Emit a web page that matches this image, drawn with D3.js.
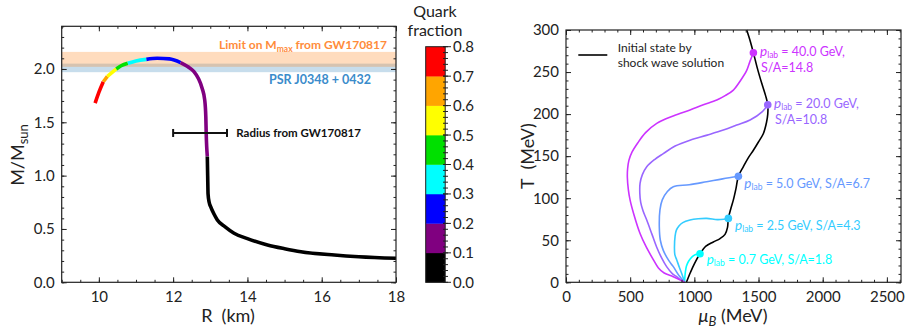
<!DOCTYPE html>
<html>
<head>
<meta charset="utf-8">
<script src="https://cdn.jsdelivr.net/npm/d3@7"></script>
<style>
  body { margin: 0; background: #fff; }
  svg { font-family: Lato, "DejaVu Sans", sans-serif; }
</style>
</head>
<body>
<svg id="chart" width="905" height="329"></svg>
<script>
// ---- left panel: mass-radius curve, quark fraction per point ----
var mrR = [9.90, 10.00, 10.12, 10.23, 10.47, 10.60, 10.78, 11.00, 11.28, 11.57, 11.90, 12.20, 12.40, 12.56, 12.68, 12.78, 12.85, 12.88, 12.89, 12.92, 12.93, 12.94, 12.97, 13.01, 13.10, 13.19, 13.40, 13.64, 14.00, 14.54, 15.00, 15.44, 16.34, 17.00, 18.00];
var mrM = [1.68, 1.78, 1.88, 1.93, 2.00, 2.03, 2.053, 2.075, 2.09, 2.10, 2.095, 2.06, 2.02, 1.975, 1.91, 1.82, 1.71, 1.55, 1.40, 1.18, 1.00, 0.83, 0.75, 0.71, 0.64, 0.585, 0.52, 0.46, 0.41, 0.35, 0.315, 0.287, 0.256, 0.24, 0.225];
var mrQ = [0.79, 0.75, 0.70, 0.60, 0.50, 0.45, 0.40, 0.35, 0.30, 0.26, 0.23, 0.20, 0.18, 0.17, 0.16, 0.15, 0.14, 0.13, 0.12, 0.10, 0.09, 0.07, 0.06, 0.05, 0.04, 0.03, 0.03, 0.02, 0.02, 0.01, 0.01, 0.01, 0.0, 0.0, 0.0];

var quarkColors = ["#000000", "#800080", "#0000ff", "#00ffff", "#00e000", "#ffff00", "#ffa500", "#ff0000"];
var quarkTicks = [0.0, 0.1, 0.2, 0.3, 0.4, 0.5, 0.6, 0.7, 0.8];

var psrBand = [1.97, 2.05];
var gwBand = [2.02, 2.16];
var gwRadius = [12.0, 13.45];
var gwRadiusMass = 1.4;

var rTicks = [10, 12, 14, 16, 18];
var mTicks = [0.0, 0.5, 1.0, 1.5, 2.0];

// ---- right panel: initial state + trajectories ----
var initMu = [938, 970, 1000, 1044, 1090, 1148, 1200, 1239, 1258, 1265, 1285, 1304, 1325, 1343, 1382, 1420, 1460, 1500, 1538, 1562, 1572, 1572, 1555, 1525, 1490, 1460, 1435, 1408];
var initT = [0, 12, 22, 34, 43, 48, 52, 57, 65, 76, 88, 98, 112, 126, 137.5, 148, 157, 167, 177, 190, 200, 211, 222, 236.6, 255, 273, 287, 300];

var plab = ["0.7", "2.5", "5.0", "20.0", "40.0"];
var entropy = ["1.8", "4.3", "6.7", "10.8", "14.8"];
var trajColors = ["#00ffff", "#33ccff", "#6699ff", "#9966ff", "#cc33ff"];

var trajMu = [
  [1044, 1010, 980, 955, 938, 930, 926, 924],
  [1265, 1230, 1180, 1096, 1030, 966, 910, 880, 860, 850, 845, 848, 863, 885, 905, 924],
  [1343, 1220, 1096, 960, 836, 790, 750, 732, 727, 735, 758, 800, 836, 880, 924],
  [1572, 1530, 1434, 1330, 1226, 1100, 966, 850, 758, 690, 629, 595, 577, 575, 582, 600, 629, 670, 706, 745, 784, 830, 862, 900, 924],
  [1460, 1434, 1408, 1360, 1304, 1240, 1175, 1070, 966, 840, 707, 620, 560, 515, 490, 480, 478, 486, 499, 530, 577, 625, 680, 720, 765, 836, 900, 924]
];
var trajT = [
  [34, 33, 30, 25, 19, 12, 6, 0],
  [76, 75, 74.5, 76, 75.5, 74, 71, 67, 62, 55, 42, 33, 26.5, 17, 9, 0],
  [126, 123, 119.6, 116, 113.7, 108, 98, 86, 66, 50, 38, 26, 18.6, 8, 0],
  [211, 203, 193, 187, 181, 175, 169, 162, 153, 146, 137.5, 128, 117.7, 106, 95, 85, 74, 57, 42, 29, 18.6, 10, 6.7, 2, 0],
  [273, 263, 252, 240, 228.6, 222, 216.8, 211, 204.9, 198, 189, 178, 166, 155, 145, 135, 125, 110, 98, 80, 58, 42, 27, 17, 11, 6.7, 2, 0]
];

var muTicks = [0, 500, 1000, 1500, 2000, 2500];
var tTicks = [0, 50, 100, 150, 200, 250, 300];

var svg = d3.select("#chart");

// inward ticks on all four sides
function frameAxes(g, x, y, xMajor, xMinor, yMajor, yMinor, xFmt, yFmt) {
  var x0 = x.range()[0], x1 = x.range()[1];
  var y0 = y.range()[0], y1 = y.range()[1];
  var sides = [
    [d3.axisBottom(x), y0, xMajor, xMinor, xFmt, "x"],
    [d3.axisTop(x), y1, xMajor, xMinor, null, "x"],
    [d3.axisLeft(y), x0, yMajor, yMinor, yFmt, "y"],
    [d3.axisRight(y), x1, yMajor, yMinor, null, "y"]
  ];
  sides.forEach(function(s) {
    var tr = s[5] == "x" ? "translate(0," + s[1] + ")" : "translate(" + s[1] + ",0)";
    g.append("g").attr("transform", tr)
      .call(s[0].tickValues(s[3]).tickSize(-2.5).tickFormat(""))
      .call(function(a) { a.select(".domain").remove(); });
    var ax = g.append("g").attr("transform", tr)
      .call(s[0].tickValues(s[2]).tickSize(-5).tickPadding(s[5] == "x" ? 9 : 7)
        .tickFormat(s[4] ? s[4] : ""));
    ax.select(".domain").remove();
    ax.selectAll("text").attr("font-size", 15).attr("fill", "#222")
      .attr("font-family", "Lato, sans-serif");
  });
  g.selectAll(".tick line").attr("stroke", "#222").attr("stroke-width", 1);
  g.append("rect").attr("x", x0).attr("y", y1).attr("width", x1 - x0).attr("height", y0 - y1)
    .attr("fill", "none").attr("stroke", "#222").attr("stroke-width", 1.2);
}

// ---------------- left panel ----------------
var xL = d3.scaleLinear().domain([9, 18]).range([61.7, 396]);
var yL = d3.scaleLinear().domain([0, 2.4]).range([282.3, 26.3]);
var gL = svg.append("g");

gL.append("rect").attr("x", xL(9)).attr("width", xL(18) - xL(9))
  .attr("y", yL(psrBand[1])).attr("height", yL(psrBand[0]) - yL(psrBand[1]))
  .attr("fill", "#1f77b4").attr("opacity", 0.25);
gL.append("rect").attr("x", xL(9)).attr("width", xL(18) - xL(9))
  .attr("y", yL(gwBand[1])).attr("height", yL(gwBand[0]) - yL(gwBand[1]))
  .attr("fill", "#ff7f0e").attr("opacity", 0.27);

gL.append("text").attr("x", xL(18) - 9).attr("y", 49)
  .attr("text-anchor", "end").attr("font-size", 12).attr("font-weight", "bold")
  .attr("fill", "#ff8c3a")
  .call(function(t) {
    t.append("tspan").text("Limit on M");
    t.append("tspan").attr("font-size", 8.5).attr("dy", 3).text("max");
    t.append("tspan").attr("dy", -3).text(" from GW170817");
  });
gL.append("text").attr("x", 371).attr("y", 83.5)
  .attr("text-anchor", "end").attr("font-size", 12.5).attr("font-weight", "bold")
  .attr("fill", "#3a8ccb").text("PSR J0348 + 0432");

// colored M-R curve, one path per run of same quark bin
var mrPts = mrR.map(function(r, i) { return { r: r, m: mrM[i], q: mrQ[i] }; });
var runs = [];
for (var i = 0; i < mrPts.length - 1; i++) {
  var bin = Math.min(7, Math.floor((mrPts[i].q + mrPts[i + 1].q) / 2 / 0.1));
  if (runs.length && runs[runs.length - 1].bin == bin) {
    runs[runs.length - 1].pts.push(mrPts[i + 1]);
  } else {
    runs.push({ bin: bin, pts: [mrPts[i], mrPts[i + 1]] });
  }
}
var mrLine = d3.line().x(function(d) { return xL(d.r); }).y(function(d) { return yL(d.m); })
  .curve(d3.curveMonotoneX);
gL.selectAll("path.mr").data(runs).enter().append("path").attr("class", "mr")
  .attr("d", function(d) { return mrLine(d.pts); })
  .attr("fill", "none").attr("stroke-width", 3.6)
  .attr("stroke", function(d) { return quarkColors[d.bin]; });

// GW170817 radius error bar
var ey = yL(gwRadiusMass);
gL.append("line").attr("x1", xL(gwRadius[0])).attr("x2", xL(gwRadius[1]))
  .attr("y1", ey).attr("y2", ey).attr("stroke", "#111").attr("stroke-width", 2);
gwRadius.forEach(function(r) {
  gL.append("line").attr("x1", xL(r)).attr("x2", xL(r)).attr("y1", ey - 4).attr("y2", ey + 4)
    .attr("stroke", "#111").attr("stroke-width", 2);
});
gL.append("text").attr("x", 236.3).attr("y", ey + 4).attr("font-size", 11.5)
  .attr("font-weight", "bold").attr("fill", "#111").text("Radius from GW170817");

frameAxes(gL, xL, yL, rTicks, d3.range(9, 18.01, 0.5), mTicks, d3.range(0, 2.41, 0.1),
  d3.format("d"), d3.format(".1f"));

gL.append("text").attr("transform", "translate(24,155) rotate(-90)")
  .attr("text-anchor", "middle").attr("font-size", 18).attr("fill", "#222")
  .call(function(t) {
    t.append("tspan").text("M/M");
    t.append("tspan").attr("font-size", 13).attr("dy", 4).text("sun");
  });
gL.append("text").attr("x", 228).attr("y", 322).attr("text-anchor", "middle")
  .attr("font-size", 18).attr("fill", "#222").attr("xml:space", "preserve").text("R  (km)");

// ---------------- colorbar ----------------
var yC = d3.scaleLinear().domain([0, 0.8]).range([282.3, 46.7]);
var gC = svg.append("g");
gC.selectAll("rect.bin").data(quarkColors).enter().append("rect").attr("class", "bin")
  .attr("x", 425.7).attr("width", 19.5)
  .attr("y", function(d, i) { return yC((i + 1) * 0.1); })
  .attr("height", function(d, i) { return yC(i * 0.1) - yC((i + 1) * 0.1) + 0.3; })
  .attr("fill", function(d) { return d; });
gC.append("rect").attr("x", 425.7).attr("y", yC(0.8)).attr("width", 19.5)
  .attr("height", yC(0) - yC(0.8)).attr("fill", "none").attr("stroke", "#222").attr("stroke-width", 1);
gC.selectAll("line.minor").data(d3.range(0, 0.801, 0.02)).enter().append("line")
  .attr("x1", 443).attr("x2", 448).attr("y1", yC).attr("y2", yC)
  .attr("stroke", "#222").attr("stroke-width", 1);
gC.selectAll("line.major").data(quarkTicks).enter().append("line")
  .attr("x1", 443).attr("x2", 451).attr("y1", yC).attr("y2", yC)
  .attr("stroke", "#222").attr("stroke-width", 1);
gC.selectAll("text.lab").data(quarkTicks).enter().append("text")
  .attr("x", 453).attr("y", function(d) { return yC(d) + 5.5; })
  .attr("font-size", 15).attr("fill", "#222").text(d3.format(".1f"));
gC.append("text").attr("x", 435).attr("y", 17).attr("text-anchor", "middle")
  .attr("font-size", 16).attr("fill", "#222").text("Quark");
gC.append("text").attr("x", 435).attr("y", 36).attr("text-anchor", "middle")
  .attr("font-size", 16).attr("fill", "#222").text("fraction");

// ---------------- right panel ----------------
var xR = d3.scaleLinear().domain([0, 2610]).range([566, 901]);
var yR = d3.scaleLinear().domain([0, 300]).range([282.3, 30]);
var gR = svg.append("g");

var tLine = d3.line().x(function(d) { return xR(d[0]); }).y(function(d) { return yR(d[1]); })
  .curve(d3.curveCatmullRom.alpha(0.5));

gR.append("path").attr("d", tLine(d3.zip(initMu, initT)))
  .attr("fill", "none").attr("stroke", "#000").attr("stroke-width", 1.6);

trajMu.forEach(function(mu, k) {
  gR.append("path").attr("d", tLine(d3.zip(mu, trajT[k])))
    .attr("fill", "none").attr("stroke", trajColors[k]).attr("stroke-width", 1.6);
  gR.append("circle").attr("cx", xR(mu[0])).attr("cy", yR(trajT[k][0])).attr("r", 3.8)
    .attr("fill", trajColors[k]);
});

// trajectory labels
var labPos = [[706.7, 264], [735, 230], [744.3, 188], [774, 108], [760, 56]];
function plabText(t, k, tail) {
  t.append("tspan").attr("font-style", "italic").attr("font-size", 13.5).text("p");
  t.append("tspan").attr("font-size", 8.5).attr("dy", 2).text("lab");
  t.append("tspan").attr("dy", -2).text(" = " + plab[k] + " GeV," + tail);
}
labPos.forEach(function(p, k) {
  var t = gR.append("text").attr("x", p[0]).attr("y", p[1]).attr("font-size", 12.5)
    .attr("fill", trajColors[k]);
  if (k < 3) {
    plabText(t, k, " S/A=" + entropy[k]);
  } else {
    plabText(t, k, "");
    gR.append("text").attr("x", p[0] + 1).attr("y", p[1] + 15.5).attr("font-size", 12.5)
      .attr("fill", trajColors[k]).text("S/A=" + entropy[k]);
  }
});

// legend
gR.append("line").attr("x1", 578.3).attr("x2", 607.3).attr("y1", 55).attr("y2", 55)
  .attr("stroke", "#000").attr("stroke-width", 1.6);
gR.append("text").attr("x", 617.7).attr("y", 52).attr("font-size", 12).attr("fill", "#222")
  .text("Initial state by");
gR.append("text").attr("x", 617.7).attr("y", 66.5).attr("font-size", 12).attr("fill", "#222")
  .text("shock wave solution");

frameAxes(gR, xR, yR, muTicks, d3.range(0, 2601, 100), tTicks, d3.range(0, 301, 10),
  d3.format("d"), d3.format("d"));

gR.append("text").attr("transform", "translate(534,156) rotate(-90)")
  .attr("text-anchor", "middle").attr("font-size", 18).attr("fill", "#222")
  .attr("xml:space", "preserve").text("T  (MeV)");
gR.append("text").attr("x", 733).attr("y", 322).attr("text-anchor", "middle")
  .attr("font-size", 18).attr("fill", "#222")
  .call(function(t) {
    t.append("tspan").attr("font-style", "italic").text("μ");
    t.append("tspan").attr("font-style", "italic").attr("font-size", 13).attr("dy", 4).text("B");
    t.append("tspan").attr("dy", -4).text(" (MeV)");
  });
</script>
</body>
</html>
